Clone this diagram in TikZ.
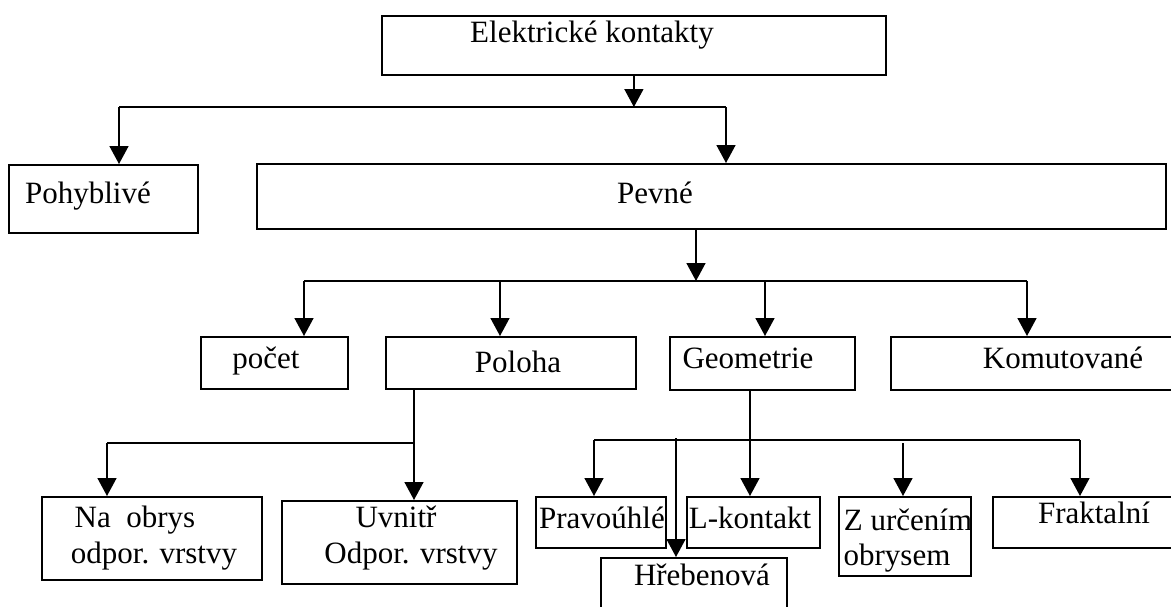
\documentclass[tikz,border=0pt]{standalone}
\usepackage{fontspec}
\setmainfont{Liberation Serif}
\usetikzlibrary{arrows.meta}

\begin{document}
\begin{tikzpicture}[x=1pt, y=-1pt, >={Triangle[width=19pt,length=18pt]},
  box/.style={draw, line width=1.8pt, anchor=north west, inner sep=0pt},
  txt/.style={font=\fontsize{31}{36}\selectfont, inner sep=0pt, anchor=base},
  spoj/.style={line width=1.6pt}]
  \useasboundingbox (0,0) rectangle (1171,606);

  % Bloky
  \node[box, minimum width=504pt, minimum height=59pt] (kont) at (381,15) {};
  \node[box, minimum width=189pt, minimum height=68pt] (pohyb) at (8,164) {};
  \node[box, minimum width=909pt, minimum height=65pt] (pevne) at (256,163) {};
  \node[box, minimum width=147pt, minimum height=52pt] (pocet) at (200,336) {};
  \node[box, minimum width=250pt, minimum height=52pt] (poloha) at (385,336) {};
  \node[box, minimum width=185pt, minimum height=53pt] (geom) at (669,336) {};
  \node[box, minimum width=320pt, minimum height=53pt] (komut) at (890,336) {};
  \node[box, minimum width=220pt, minimum height=83pt] (obrys) at (41,496) {};
  \node[box, minimum width=235pt, minimum height=83pt] (uvnitr) at (281,500) {};
  \node[box, minimum width=130pt, minimum height=51pt] (pravo) at (535,496) {};
  \node[box, minimum width=133pt, minimum height=51pt] (lkont) at (686,496) {};
  \node[box, minimum width=132pt, minimum height=79pt] (zurc) at (838,496) {};
  \node[box, minimum width=220pt, minimum height=51pt] (frakt) at (992,496) {};
  \node[box, minimum width=186pt, minimum height=80pt] (hreb) at (600,557) {};

  % Popisky
  \node[txt] (kontT) at (592,42) {Elektrické kontakty};
  \node[txt] (pohybT) at (88,203) {Pohyblivé};
  \node[txt] (pevneT) at (655,203) {Pevné};
  \node[txt] (pocetT) at (266,368) {počet};
  \node[txt] (polohaT) at (518,372) {Poloha};
  \node[txt] (geomT) at (748,368) {Geometrie};
  \node[txt] (komutT) at (1063,368) {Komutované};
  \node[txt] (obrysT) at (135,527) {Na\ \ obrys};
  \node[txt] (obrysU) at (154,563) {odpor. vrstvy};
  \node[txt] (uvnitrT) at (396,527) {Uvnitř};
  \node[txt] (uvnitrU) at (411,563) {Odpor. vrstvy};
  \node[txt] (pravoT) at (602,528) {Pravoúhlé};
  \node[txt] (lkontT) at (750,528) {L-kontakt};
  \node[txt] (zurcT) at (908,530) {Z určením};
  \node[txt] (zurcU) at (897,565) {obrysem};
  \node[txt] (fraktT) at (1094,523) {Fraktalní};
  \node[txt] (hrebT) at (702,585) {Hřebenová};

  % Vetve
  \coordinate (a1) at (119,107);
  \coordinate (a2) at (726,107);
  \draw[spoj] (a1) -- (a2);
  \draw[spoj, ->] (kont.south) -- (kont.south |- a1);
  \draw[spoj, ->] (a1) -- (a1 |- pohyb.north);
  \draw[spoj, ->] (a2) -- (a2 |- pevne.north);

  \coordinate (b0) at (696,281);
  \coordinate (b1) at (304,281);
  \coordinate (b2) at (500,281);
  \coordinate (b3) at (765,281);
  \coordinate (b4) at (1027,281);
  \draw[spoj, ->] (b0 |- pevne.south) -- (b0);
  \draw[spoj] (b1) -- (b4);
  \draw[spoj, ->] (b1) -- (b1 |- pocet.north);
  \draw[spoj, ->] (b2) -- (b2 |- poloha.north);
  \draw[spoj, ->] (b3) -- (b3 |- geom.north);
  \draw[spoj, ->] (b4) -- (b4 |- komut.north);

  \coordinate (c0) at (414,443);
  \coordinate (c1) at (107,443);
  \draw[spoj] (c0 |- poloha.south) -- (c0) -- (c1);
  \draw[spoj, ->] (c1) -- (c1 |- obrys.north);
  \draw[spoj, ->] (c0) -- (c0 |- uvnitr.north);

  \coordinate (d0) at (750,440);
  \coordinate (d1) at (594,440);
  \coordinate (d2) at (676,438);
  \coordinate (d3) at (903,443);
  \coordinate (d4) at (1080,440);
  \draw[spoj] (d0 |- geom.south) -- (d0);
  \draw[spoj] (d1) -- (d4);
  \draw[spoj, ->] (d1) -- (d1 |- pravo.north);
  \draw[spoj, ->] (d0) -- (d0 |- lkont.north);
  \draw[spoj, ->] (d2) -- (d2 |- hreb.north);
  \draw[spoj, ->] (d3) -- (d3 |- zurc.north);
  \draw[spoj, ->] (d4) -- (d4 |- frakt.north);
\end{tikzpicture}
\end{document}
